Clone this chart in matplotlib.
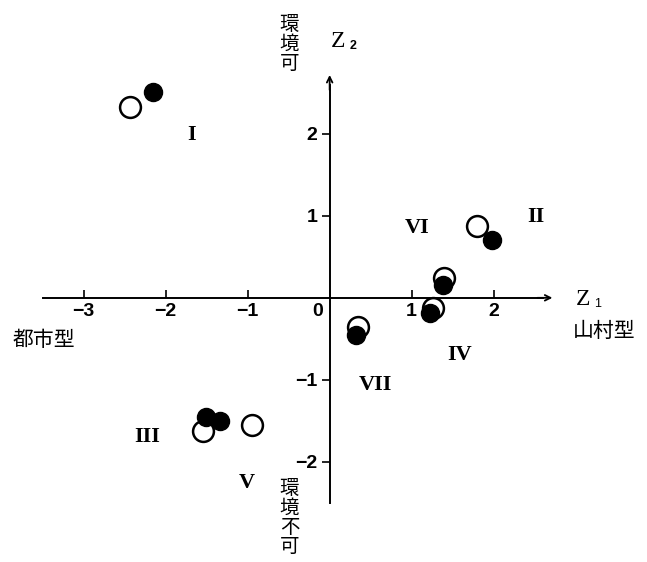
import matplotlib.pyplot as plt
from matplotlib.transforms import ScaledTranslation

plt.rcParams['font.family'] = ['Noto Sans CJK JP', 'DejaVu Sans']

# scores on the two components
open_z1 = [-2.44, 1.80, 1.40, 1.26, 0.34, -1.55, -0.95]
open_z2 = [2.32, 0.88, 0.24, -0.12, -0.35, -1.62, -1.55]
fill_z1 = [-2.16, 1.98, 1.38, 1.22, 0.32, -1.51, -1.34]
fill_z2 = [2.51, 0.71, 0.16, -0.18, -0.45, -1.45, -1.50]

groups = ['I', 'II', 'III', 'IV', 'V', 'VI', 'VII']
group_x = [-1.68, 2.52, -2.23, 1.59, -1.01, 1.07, 0.56]
group_y = [1.99, 0.98, -1.70, -0.70, -2.26, 0.85, -1.06]

xticks = [-3, -2, -1, 0, 1, 2]
yticks = [-2, -1, 1, 2]

fig = plt.figure(figsize=(6.47, 5.62), dpi=100)
ax = fig.add_axes([0, 0, 1, 1])
ax.set_xlim(-4.02, 3.87)
ax.set_ylim(-3.22, 3.63)

# axes crossing at the origin
ax.spines['left'].set_position(('data', 0))
ax.spines['bottom'].set_position(('data', 0))
ax.spines['right'].set_visible(False)
ax.spines['top'].set_visible(False)
ax.spines['bottom'].set_bounds(-3.5, 2.6)
ax.spines['left'].set_bounds(-2.5, 2.6)
ax.spines['bottom'].set_linewidth(1.4)
ax.spines['left'].set_linewidth(1.4)
ax.annotate('', xy=(2.75, 0), xytext=(2.5, 0),
            arrowprops=dict(arrowstyle='->', lw=1.3, color='black'))
ax.annotate('', xy=(0, 2.75), xytext=(0, 2.5),
            arrowprops=dict(arrowstyle='->', lw=1.3, color='black'))

ax.set_xticks(xticks)
ax.set_xticklabels([str(t).replace('-', '\u2212') for t in xticks])
ax.set_yticks(yticks)
ax.set_yticklabels([str(t).replace('-', '\u2212') for t in yticks])
ax.tick_params(axis='x', direction='in', length=6, width=1.2, pad=4)
ax.tick_params(axis='y', direction='out', length=6, width=1.2, pad=3)
for lab in ax.get_xticklabels() + ax.get_yticklabels():
    lab.set_family('Liberation Sans')
    lab.set_fontweight('bold')
    lab.set_fontsize(14)
# the 0 sits left of the vertical axis
zero = ax.get_xticklabels()[xticks.index(0)]
zero.set_transform(zero.get_transform() + ScaledTranslation(-0.12, 0, fig.dpi_scale_trans))

ax.plot(open_z1, open_z2, 'o', ms=15, mfc='white', mec='black', mew=1.8,
        ls='none', zorder=3)
ax.plot(fill_z1, fill_z2, 'o', ms=13, mfc='black', mec='black',
        ls='none', zorder=4)

for g, gx, gy in zip(groups, group_x, group_y):
    ax.text(gx, gy, g, family='Liberation Serif', fontweight='bold',
            fontsize=16, ha='center', va='center')

# axis captions
ax.text(0.10, 3.12, 'Z', family='Liberation Serif', fontsize=17,
        ha='center', va='center')
ax.text(0.28, 3.07, '2', family='Liberation Sans', fontweight='bold',
        fontsize=9, ha='center', va='center')
ax.text(3.09, -0.02, 'Z', family='Liberation Serif', fontsize=17,
        ha='center', va='center')
ax.text(3.27, -0.07, '1', family='Liberation Sans', fontsize=9,
        ha='center', va='center')
ax.text(-0.49, 3.09, '環\n境\n可', fontsize=14, ha='center', va='center',
        linespacing=0.9)
ax.text(-0.49, -2.68, '環\n境\n不\n可', fontsize=14, ha='center', va='center',
        linespacing=0.9)
ax.text(-3.48, -0.51, '都市型', fontsize=15, ha='center', va='center')
ax.text(3.35, -0.41, '山村型', fontsize=15, ha='center', va='center')

plt.savefig('out.png', dpi=100)
plt.close()
